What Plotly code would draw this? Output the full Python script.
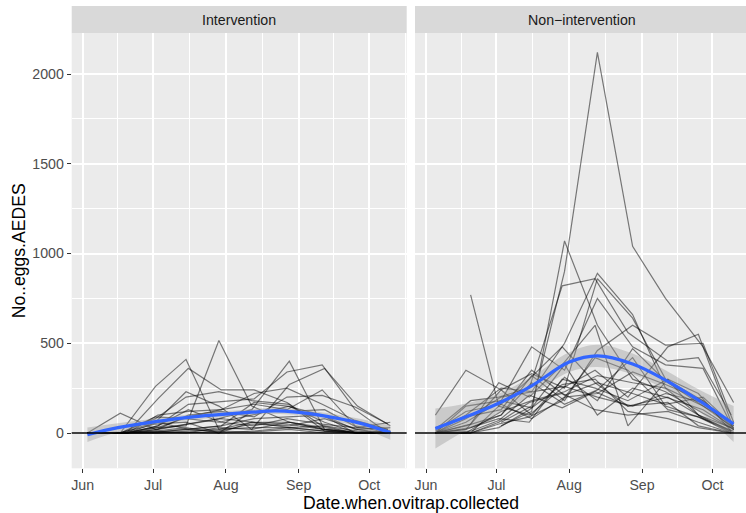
import plotly.graph_objects as go
from datetime import datetime, timedelta

# ---------------- data ----------------
int_dates_a = ["2019-06-03", "2019-06-17", "2019-07-02", "2019-07-15", "2019-07-29",
               "2019-08-12", "2019-08-28", "2019-09-12", "2019-09-26", "2019-10-10"]
int_dates_b = ["2019-06-03", "2019-06-20", "2019-07-03", "2019-07-16", "2019-07-30",
               "2019-08-13", "2019-08-27", "2019-09-11", "2019-09-25", "2019-10-09"]
int_sched = "ABAABABAABABAABAABABAB"
int_counts = [
    [0, 0, 260, 410, 20, 60, 30, 10, 0, 5],
    [0, 5, 190, 360, 240, 240, 170, 40, 0, 0],
    [0, 0, 30, 40, 515, 150, 60, 20, 5, 0],
    [0, 110, 20, 50, 80, 130, 400, 20, 0, 10],
    [0, 0, 40, 160, 175, 190, 340, 380, 130, 0],
    [0, 0, 60, 230, 150, 20, 270, 360, 150, 40],
    [0, 0, 100, 120, 130, 220, 250, 160, 70, 20],
    [0, 0, 80, 200, 230, 180, 160, 10, 0, 0],
    [0, 0, 10, 30, 0, 60, 60, 20, 0, 0],
    [0, 0, 20, 100, 120, 90, 200, 210, 145, 50],
    [0, 0, 50, 60, 0, 120, 120, 130, 30, 60],
    [0, 0, 5, 20, 40, 80, 90, 100, 20, 0],
    [0, 0, 90, 80, 60, 100, 150, 60, 0, 10],
    [0, 0, 0, 10, 20, 30, 30, 40, 10, 0],
    [0, 0, 40, 130, 60, 40, 80, 50, 30, 20],
    [0, 0, 10, 0, 30, 20, 60, 30, 0, 0],
    [0, 0, 5, 20, 10, 50, 40, 80, 20, 30],
    [0, 0, 20, 50, 80, 60, 50, 20, 0, 0],
    [0, 0, 0, 5, 0, 10, 30, 10, 0, 0],
    [0, 0, 60, 20, 40, 170, 150, 100, 0, 0],
    [0, 0, 0, 0, 10, 5, 20, 0, 0, 0],
    [0, 0, 30, 90, 130, 160, 130, 240, 40, 0],
]

non_dates_a = ["2019-06-05", "2019-06-18", "2019-07-03", "2019-07-16", "2019-07-30",
               "2019-08-13", "2019-08-28", "2019-09-11", "2019-09-27", "2019-10-10"]
non_dates_b = ["2019-06-05", "2019-06-20", "2019-07-02", "2019-07-15", "2019-07-29",
               "2019-08-12", "2019-08-26", "2019-09-12", "2019-09-25", "2019-10-09"]
non_sched = "AABABAABABAABABAABABAB"
non_counts = [
    [None, None, 60, 150, 900, 2120, 1040, 750, 480, 170],
    [None, None, 40, 120, 1070, 600, 300, 230, 110, 20],
    [None, 770, 150, 300, 480, 280, 150, 200, 100, 30],
    [100, 350, 240, 330, 250, 860, 640, 300, 180, 40],
    [20, 180, 200, 250, 820, 860, 560, 400, 420, 100],
    [0, 100, 250, 230, 500, 890, 660, 250, 150, 50],
    [0, 150, 180, 480, 350, 750, 480, 380, 360, 20],
    [0, 50, 280, 200, 380, 600, 40, 300, 220, 10],
    [0, 20, 100, 320, 180, 460, 600, 490, 500, 60],
    [0, 0, 150, 100, 250, 350, 200, 480, 550, 60],
    [0, 80, 200, 230, 260, 200, 150, 220, 170, 20],
    [0, 0, 120, 180, 230, 320, 280, 250, 80, 0],
    [0, 30, 80, 60, 300, 250, 180, 300, 100, 10],
    [10, 120, 160, 80, 200, 220, 340, 270, 180, 30],
    [0, 0, 60, 170, 220, 130, 100, 120, 60, 0],
    [0, 40, 100, 280, 160, 240, 420, 150, 80, 10],
    [0, 60, 180, 140, 380, 100, 250, 200, 130, 20],
    [0, 0, 30, 130, 270, 300, 120, 80, 30, 0],
    [30, 90, 130, 350, 210, 280, 220, 160, 200, 40],
    [0, 0, 50, 90, 180, 420, 350, 130, 90, 0],
    [0, 20, 240, 100, 310, 180, 470, 290, 150, 30],
    [0, 10, 70, 210, 140, 230, 150, 170, 40, 0],
]

# loess smooth with confidence half-widths
int_smooth_dates = ["2019-06-03", "2019-06-16", "2019-07-02", "2019-07-16", "2019-07-29",
                    "2019-08-12", "2019-08-22", "2019-08-30", "2019-09-13", "2019-09-27", "2019-10-10"]
int_smooth_fit = [-10, 30, 63, 87, 102, 116, 123, 118, 93, 55, 2]
int_smooth_hw = [40, 25, 18, 16, 16, 16, 17, 17, 18, 24, 40]

non_smooth_dates = ["2019-06-05", "2019-06-18", "2019-07-01", "2019-07-16", "2019-08-01",
                    "2019-08-13", "2019-08-28", "2019-09-11", "2019-09-26", "2019-10-10"]
non_smooth_fit = [25, 90, 160, 263, 395, 430, 385, 295, 175, 50]
non_smooth_hw = [112, 75, 55, 50, 55, 62, 58, 55, 62, 100]

facet_labels = ["Intervention", "Non\u2212intervention"]
month_ticks = ["2019-06-01", "2019-07-01", "2019-08-01", "2019-09-01", "2019-10-01"]
month_labels = ["Jun", "Jul", "Aug", "Sep", "Oct"]
minor_x = ["2019-06-16", "2019-07-16 12:00", "2019-08-16 12:00", "2019-09-16", "2019-10-16 12:00"]
y_ticks = [0, 500, 1000, 1500, 2000]
y_minor = [250, 750, 1250, 1750]

# ---------------- layout geometry (pixels) ----------------
W, H = 746, 513
LEFT = (71.7, 406.7)
RIGHT = (415.0, 746.0)
PTOP, PBOT = 33.3, 468.3
STRIP_TOP = 6.0
JUN1_L = 82.7          # px of Jun 1 in left panel
PX_PER_DAY = 2.348
Y0_PX = 433.0
PX_PER_UNIT = 0.1795

jun1 = datetime(2019, 6, 1)
def dstr(d):
    return d.strftime("%Y-%m-%d %H:%M:%S")

xr_left = [dstr(jun1 - timedelta(days=(JUN1_L - LEFT[0]) / PX_PER_DAY)),
           dstr(jun1 + timedelta(days=(LEFT[1] - JUN1_L) / PX_PER_DAY))]
jun1_r = RIGHT[0] + (JUN1_L - LEFT[0])
xr_right = [dstr(jun1 - timedelta(days=(jun1_r - RIGHT[0]) / PX_PER_DAY)),
            dstr(jun1 + timedelta(days=(RIGHT[1] - jun1_r) / PX_PER_DAY))]
yr = [-(PBOT - Y0_PX) / PX_PER_UNIT, (Y0_PX - PTOP) / PX_PER_UNIT]

def px(x):
    return x / W
def py(y):
    return 1 - y / H

fig = go.Figure()

line_col = "rgba(0,0,0,0.5)"

def add_panel(dates_a, dates_b, sched, counts, sdates, sfit, shw, xa, ya):
    for i, row in enumerate(counts):
        ds = dates_a if sched[i] == "A" else dates_b
        xs = [d for d, v in zip(ds, row) if v is not None]
        vs = [v for v in row if v is not None]
        fig.add_trace(go.Scatter(x=xs, y=vs, mode="lines", xaxis=xa, yaxis=ya,
                                 line=dict(color=line_col, width=1.2),
                                 showlegend=False, hoverinfo="skip"))
    lower = [f - h for f, h in zip(sfit, shw)]
    upper = [f + h for f, h in zip(sfit, shw)]
    fig.add_trace(go.Scatter(x=sdates, y=lower, mode="lines", xaxis=xa, yaxis=ya,
                             line=dict(width=0, shape="spline", smoothing=1.0),
                             showlegend=False, hoverinfo="skip"))
    fig.add_trace(go.Scatter(x=sdates, y=upper, mode="lines", xaxis=xa, yaxis=ya,
                             line=dict(width=0, shape="spline", smoothing=1.0),
                             fill="tonexty", fillcolor="rgba(153,153,153,0.4)",
                             showlegend=False, hoverinfo="skip"))
    fig.add_trace(go.Scatter(x=sdates, y=sfit, mode="lines", xaxis=xa, yaxis=ya,
                             line=dict(color="#3366FF", width=3.2, shape="spline", smoothing=1.0),
                             showlegend=False, hoverinfo="skip"))

add_panel(int_dates_a, int_dates_b, int_sched, int_counts,
          int_smooth_dates, int_smooth_fit, int_smooth_hw, "x", "y")
add_panel(non_dates_a, non_dates_b, non_sched, non_counts,
          non_smooth_dates, non_smooth_fit, non_smooth_hw, "x2", "y2")

FONT = "Liberation Sans, Arial, sans-serif"
tickfont = dict(family=FONT, size=14.2, color="#4D4D4D")

def xaxis(domain, rng):
    return dict(type="date", domain=domain, range=rng, anchor="y",
                tickmode="array", tickvals=month_ticks, ticktext=month_labels,
                ticks="outside", ticklen=4, tickwidth=1.1, tickcolor="#333333",
                tickfont=tickfont, showgrid=True, gridcolor="white", gridwidth=1.6,
                zeroline=False, showline=False, fixedrange=True,
                minor=dict(tickmode="array", tickvals=minor_x, showgrid=True,
                           gridcolor="white", gridwidth=0.8, ticks=""))

ydom = [py(PBOT), py(PTOP)]
fig.update_layout(
    width=W, height=H, margin=dict(l=0, r=0, t=0, b=0),
    paper_bgcolor="white", plot_bgcolor="#EBEBEB", showlegend=False,
    xaxis=xaxis([px(LEFT[0]), px(LEFT[1])], xr_left),
    xaxis2={**xaxis([px(RIGHT[0]), px(RIGHT[1])], xr_right), "anchor": "y2"},
    yaxis=dict(domain=ydom, range=yr, anchor="x", tickmode="array", tickvals=y_ticks,
               ticks="outside", ticklen=4, tickwidth=1.1, tickcolor="#333333",
               tickfont=tickfont, showgrid=True, gridcolor="white", gridwidth=1.6,
               zeroline=False, showline=False, fixedrange=True,
               minor=dict(tickmode="array", tickvals=y_minor, showgrid=True,
                          gridcolor="white", gridwidth=0.8, ticks="")),
    yaxis2=dict(domain=ydom, range=yr, anchor="x2", tickmode="array", tickvals=y_ticks,
                showticklabels=False, ticks="", showgrid=True, gridcolor="white",
                gridwidth=1.6, zeroline=False, showline=False, fixedrange=True,
                minor=dict(tickmode="array", tickvals=y_minor, showgrid=True,
                           gridcolor="white", gridwidth=0.8, ticks="")),
)

shapes = []
for (x0, x1) in (LEFT, RIGHT):
    shapes.append(dict(type="rect", xref="paper", yref="paper",
                       x0=px(x0), x1=px(x1), y0=py(PTOP), y1=py(STRIP_TOP),
                       fillcolor="#D9D9D9", line=dict(width=0), layer="below"))
for xa, ya in (("x", "y"), ("x2", "y2")):
    shapes.append(dict(type="line", xref=xa + " domain", yref=ya, x0=0, x1=1, y0=0, y1=0,
                       line=dict(color="black", width=1.3), layer="above"))
fig.update_layout(shapes=shapes)

stripfont = dict(family=FONT, size=14.2, color="#1A1A1A")
titlefont = dict(family=FONT, size=17.6, color="black")
annotations = [
    dict(text=facet_labels[0], xref="paper", yref="paper", x=px((LEFT[0] + LEFT[1]) / 2),
         y=py((STRIP_TOP + PTOP) / 2), xanchor="center", yanchor="middle",
         showarrow=False, font=stripfont),
    dict(text=facet_labels[1], xref="paper", yref="paper", x=px(582),
         y=py((STRIP_TOP + PTOP) / 2), xanchor="center", yanchor="middle",
         showarrow=False, font=stripfont),
    dict(text="Date.when.ovitrap.collected", xref="paper", yref="paper", x=px(410.5),
         y=py(502.5), xanchor="center", yanchor="middle", showarrow=False, font=titlefont),
    dict(text="No..eggs.AEDES", xref="paper", yref="paper", x=px(18.5),
         y=py((PTOP + PBOT) / 2), xanchor="center", yanchor="middle", textangle=-90,
         showarrow=False, font=titlefont),
]
fig.update_layout(annotations=annotations)

fig.write_html("out.html", config={"displayModeBar": False},
               post_script="document.body.style.margin='0';document.body.style.overflow='hidden';")
